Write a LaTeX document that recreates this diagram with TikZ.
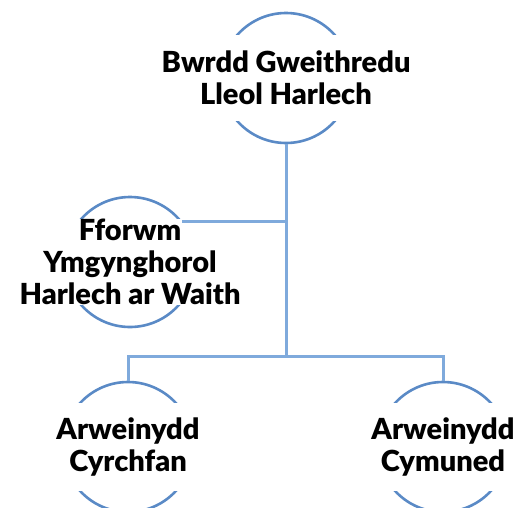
\documentclass[tikz,border=0pt]{standalone}
\usepackage{fontspec}
\setmainfont{Lato}
\newfontfamily\heavyfont{Lato Black}
\definecolor{ringblue}{HTML}{5A8AC6}
\definecolor{connblue}{HTML}{7FAADC}
\begin{document}
\begin{tikzpicture}[x=1pt,y=-1pt,
  ring/.style={circle,draw=ringblue,line width=2.6pt,minimum size=130pt,inner sep=0pt},
  band/.style={fill=white,minimum width=140pt,inner sep=0pt,align=center,
    font=\heavyfont\fontsize{29}{32}\selectfont},
  conn/.style={draw=connblue,line width=3pt}]
\useasboundingbox (0,0) rectangle (517,507);
\node[ring] (top) at (286,78) {};
\node[ring] (left) at (130,262) {};
\node[ring] (bl) at (128,447) {};
\node[ring] (br) at (443,447) {};
\node[band,minimum height=86pt] (topt) at (top) {Bwrdd Gweithredu\\Lleol Harlech};
\node[band,minimum height=78pt] (leftt) at (left) {Fforwm\\Ymgynghorol\\Harlech ar Waith};
\node[band,minimum height=88pt] (blt) at (bl) {Arweinydd\\Cyrchfan};
\node[band,minimum height=88pt] (brt) at (br) {Arweinydd\\Cymuned};
\coordinate (bus) at (286,356);
\draw[conn] (top.south) -- (bus);
\draw[conn] (bl.north) |- (bus) -| (br.north);
\draw[conn] (left.38) -- (left.38 -| bus);
\end{tikzpicture}
\end{document}
